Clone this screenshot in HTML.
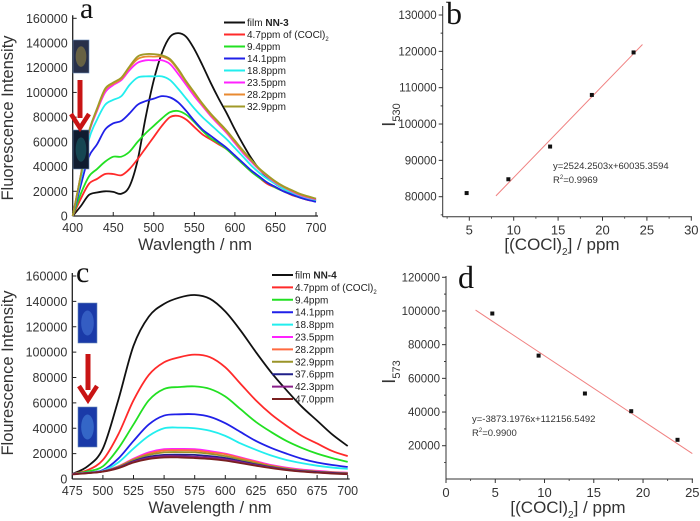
<!DOCTYPE html>
<html><head><meta charset="utf-8"><style>
html,body{margin:0;padding:0;background:#fff;}
svg{display:block;font-family:"Liberation Sans",Arial,sans-serif;}
</style></head><body>
<svg id="fig" width="700" height="521" viewBox="0 0 700 521" xmlns="http://www.w3.org/2000/svg">
<g id="pa"></g>
<g id="pb"></g>
<g id="pc"></g>
<g id="pd"></g>
</svg>
<script>
// ---- Panel a data ----
const aWave = [400,410,420,430,440,450,460,470,480,490,500,510,520,530,540,550,560,570,580,590,600,610,620,630,640,650,660,670,680,690,700];
const aLabels = ["film NN-3","4.7ppm of (COCl)","9.4ppm","14.1ppm","18.8ppm","23.5ppm","28.2ppm","32.9ppm"];
const aColors = ["#111111","#ff2a2a","#22e022","#2020e8","#22eeee","#ff22ff","#e88a30","#a09a28"];
const aS0 = [0,8000,17000,19000,20000,19500,18000,24000,45000,80000,110000,132000,145000,148000,145000,135000,122000,108000,95000,83000,70000,58000,47000,38000,31000,26000,22000,19000,16500,14500,13000];
const aS1 = [0,14000,26000,30000,34000,34000,33000,38000,46000,55000,64000,73000,80000,81000,78000,72000,66000,62000,58000,54000,48000,42000,36000,31000,26000,23000,20000,17000,15000,13000,12000];
const aS2 = [0,18000,32000,38000,44000,48000,48000,52000,60000,67000,73000,79000,84000,85000,82000,76000,69000,63000,59000,54000,48000,42000,36000,31000,27000,23000,20000,17500,15000,13500,12000];
const aS3 = [0,25000,48000,58000,70000,75000,77000,83000,90000,93000,95000,97000,96000,92000,85000,77000,70000,65000,60000,55000,49000,43000,37000,32000,27000,23500,20000,17500,15000,13000,11500];
const aS4 = [0,30000,62000,78000,90000,94000,97000,106000,112000,113000,113000,113000,110000,103000,95000,87000,80000,74000,68000,62000,55000,48000,41000,35000,30000,26000,22000,19000,16500,14500,13000];
const aS5 = [0,33000,67000,85000,100000,106000,110000,118000,124000,126000,126000,126000,123000,115000,106000,97000,89000,81000,74000,67000,59000,51000,44000,37500,32000,27000,23500,20000,17000,15000,13500];
const aS6 = [0,33000,68000,86000,102000,107000,111000,120000,127000,129000,129000,129000,126000,118000,108000,99000,90000,82000,75000,68000,60000,52000,45000,38000,32500,27500,23500,20500,17500,15500,14000];
const aS7 = [0,33000,68000,87000,103000,108000,112000,121000,129000,131000,131000,130000,127000,119000,109000,100000,91000,83000,76000,69000,61000,53000,45500,38500,33000,28000,24000,21000,18000,16000,14000];
const aYTicks = [0,20000,40000,60000,80000,100000,120000,140000,160000];
const aXTicks = [400,450,500,550,600,650,700];

// ---- Panel c data ----
const cWave = [475,487.5,500,512.5,525,537.5,550,562.5,575,587.5,600,612.5,625,637.5,650,662.5,675,687.5,700];
const cLabels = ["film NN-4","4.7ppm of (COCl)","9.4ppm","14.1ppm","18.8ppm","23.5ppm","28.2ppm","32.9ppm","37.6ppm","42.3ppm","47.0ppm"];
const cColors = ["#111111","#ff2a2a","#22e022","#2020e8","#22eeee","#ff22ff","#ff6a40","#9a9428","#20208a","#8a208a","#7a2020"];
const cS0 = [4000,10000,24000,62000,105000,128000,138000,143000,145000,142000,132000,117000,100000,84000,70000,57000,46000,35000,26000];
const cS1 = [4000,7000,15000,35000,62000,82000,92000,96000,98000,96000,88000,75000,62000,51000,42000,34000,28000,22000,18000];
const cS2 = [4000,6000,10000,24000,43000,62000,71000,72500,73000,71000,65000,55000,45000,37000,30000,24500,20000,16500,13500];
const cS3 = [4000,5000,7000,16000,30000,43000,50000,51000,51000,49000,44000,37000,30000,24500,20000,16000,13000,11000,9500];
const cS4 = [4000,5000,6500,13000,24000,34000,40000,40500,40000,38000,34000,28000,23000,18500,15000,12500,10500,9000,8000];
const cS5 = [4000,4800,6000,10000,16000,21000,23500,23700,23500,22000,20000,17000,14000,11000,9000,7500,6500,5500,5000];
const cS6 = [4000,4800,6000,9800,15500,20000,22500,22700,22500,21000,19500,16500,13500,10500,8500,7000,6000,5300,4800];
const cS7 = [4000,4800,6000,9500,15000,19000,21000,21200,21000,19800,18000,15300,12500,10000,8000,6700,5800,5100,4500];
const cS8 = [3800,4700,6000,9000,14000,17500,19000,19200,19000,18000,16500,14000,11500,9300,7500,6300,5500,4800,4200];
const cS9 = [3800,4700,6000,8800,13500,16500,18000,18000,17500,16800,15500,13300,11000,9000,7200,6000,5200,4500,4000];
const cS10 = [3600,4500,5800,8500,13000,15800,17000,17000,16500,15800,14500,12500,10500,8600,7000,5800,5000,4300,3800];
const cYTicks = [0,20000,40000,60000,80000,100000,120000,140000,160000];
const cXTicks = [475,500,525,550,575,600,625,650,675,700];

// ---- Panel b data ----
const bX = [4.7,9.4,14.1,18.8,23.5];
const bY = [81000,84800,93800,108000,119700];
const bSlope = 2524.2503, bIntercept = 60035.3594;
const bFitRange = [8,24.5];
const bYTicks = [80000,90000,100000,110000,120000,130000];
const bXTicks = [5,10,15,20,25,30];

// ---- Panel d data ----
const dX = [4.7,9.4,14.1,18.8,23.5];
const dY = [98500,73500,51000,40500,23500];
const dSlope = -3873.1976, dIntercept = 112156.5492;
const dFitRange = [3,25];
const dYTicks = [20000,40000,60000,80000,100000,120000];
const dXTicks = [0,5,10,15,20,25];

const NS="http://www.w3.org/2000/svg";
function mk(parent,tag,attrs,text){const e=document.createElementNS(NS,tag);for(const k in attrs)e.setAttribute(k,attrs[k]);if(text!==undefined)e.textContent=text;parent.appendChild(e);return e;}
function lin(d0,d1,r0,r1){return v=>r0+(v-d0)*(r1-r0)/(d1-d0);}
function smooth(pts){let d="M"+pts[0][0].toFixed(2)+","+pts[0][1].toFixed(2);
 for(let i=0;i<pts.length-1;i++){const p0=pts[Math.max(0,i-1)],p1=pts[i],p2=pts[i+1],p3=pts[Math.min(pts.length-1,i+2)];
  const c1=[p1[0]+(p2[0]-p0[0])/6,p1[1]+(p2[1]-p0[1])/6],c2=[p2[0]-(p3[0]-p1[0])/6,p2[1]-(p3[1]-p1[1])/6];
  d+="C"+c1[0].toFixed(2)+","+c1[1].toFixed(2)+" "+c2[0].toFixed(2)+","+c2[1].toFixed(2)+" "+p2[0].toFixed(2)+","+p2[1].toFixed(2);}
 return d;}

function spectrum(g,cfg){
 const X=lin(cfg.xd[0],cfg.xd[1],cfg.px[0],cfg.px[1]), Y=lin(0,160000,cfg.py[0],cfg.py[1]);
 const ax=mk(g,"line",{x1:cfg.px[0],y1:cfg.py[0],x2:cfg.px[1]+2,y2:cfg.py[0],stroke:"#222","stroke-width":1.3});
 
 
 const ay=mk(g,"line",{x1:cfg.px[0],y1:cfg.py[0],x2:cfg.px[0],y2:cfg.py[1]-3,stroke:"#222","stroke-width":1.3});
 
 
 cfg.yt.forEach(v=>{const y=Y(v);
  mk(g,"line",{x1:cfg.px[0],y1:y,x2:cfg.px[0]+4,y2:y,stroke:"#222","stroke-width":1});
  const t=mk(g,"text",{x:cfg.px[0]-5,y:y+4.5,"text-anchor":"end","font-size":12.5,fill:"#333"},v);
  
  });
 cfg.xt.forEach(v=>{const x=X(v);
  mk(g,"line",{x1:x,y1:cfg.py[0],x2:x,y2:cfg.py[0]-4,stroke:"#222","stroke-width":1});
  const t=mk(g,"text",{x:x,y:cfg.py[0]+16,"text-anchor":"middle","font-size":12.5,fill:"#333"},v);
  
  });
 cfg.series.forEach((s,i)=>{
  const p=mk(g,"path",{d:smooth(cfg.wave.map((w,j)=>[X(w),Y(s[j])])),fill:"none",stroke:cfg.colors[i],"stroke-width":1.8});
  
  });
 cfg.labels.forEach((l,i)=>{const y=cfg.leg[1]+i*cfg.leg[2];
  const lg=mk(g,"g",{});
  
  
  mk(lg,"line",{x1:cfg.leg[0],y1:y,x2:cfg.leg[0]+21,y2:y,stroke:cfg.colors[i],"stroke-width":2});
  const t=mk(lg,"text",{x:cfg.leg[0]+23,y:y+3.5,"font-size":10,fill:"#222"});
  if(i===0){t.appendChild(document.createTextNode("film "));mk(t,"tspan",{"font-weight":"bold"},l.slice(5));}
  else if(l.indexOf("(COCl)")>=0){t.appendChild(document.createTextNode(l));mk(t,"tspan",{"font-size":6,dy:3},"2");}
  else t.textContent=l;});
 const yt=mk(g,"text",{x:0,y:0,transform:`translate(${cfg.ytitle[0]},${cfg.ytitle[1]}) rotate(-90)`,"text-anchor":"middle","font-size":16.5,fill:"#333"},cfg.ytitleText);
 
 
 const xt=mk(g,"text",{x:cfg.xtitle[0],y:cfg.xtitle[1],"text-anchor":"middle","font-size":16.5,fill:"#333"},"Wavlength / nm");
 if(cfg.xtitleText) xt.textContent=cfg.xtitleText;
 
 
 const pl=mk(g,"text",{x:cfg.plabel[0],y:cfg.plabel[1],"font-family":"Liberation Serif,serif","font-size":30,fill:"#111"},cfg.plabelText);
 
 
 cfg.insets.forEach((r,i)=>{const rc=mk(g,"rect",{x:r[0],y:r[1],width:r[2],height:r[3],fill:r[4],stroke:"#6a8ab8","stroke-width":0.6});
  
  
  mk(g,"ellipse",{cx:r[0]+r[2]/2,cy:r[1]+r[3]/2,rx:r[2]/3,ry:r[3]/3.2,fill:r[5],opacity:0.55});});
 const a=cfg.arrow;
 const ar=mk(g,"g",{});
 
 
 mk(ar,"line",{x1:a[0],y1:a[1],x2:a[0],y2:a[2]-10,stroke:"#c81414","stroke-width":5});
 mk(ar,"path",{d:`M${a[0]-9},${a[2]-14} L${a[0]},${a[2]} L${a[0]+9},${a[2]-14}`,fill:"none",stroke:"#c81414","stroke-width":4.5});
}

function scatter(g,cfg){
 const X=lin(cfg.xd[0],cfg.xd[1],cfg.xp[0],cfg.xp[1]), Y=lin(cfg.yd[0],cfg.yd[1],cfg.yp[0],cfg.yp[1]);
 const ax=mk(g,"line",{x1:cfg.ox,y1:cfg.oy,x2:cfg.xend,y2:cfg.oy,stroke:"#333","stroke-width":1});
 
 
 const ay=mk(g,"line",{x1:cfg.ox,y1:cfg.oy,x2:cfg.ox,y2:cfg.ytop,stroke:"#333","stroke-width":1});
 
 
 cfg.yt.forEach((v,i)=>{const y=Y(v);
  mk(g,"line",{x1:cfg.ox-4,y1:y,x2:cfg.ox,y2:y,stroke:"#333","stroke-width":1});
  const ym=Y(v+cfg.ystep/2);if(ym>cfg.ytop)mk(g,"line",{x1:cfg.ox-2,y1:ym,x2:cfg.ox,y2:ym,stroke:"#333","stroke-width":0.8});
  const ym2=Y(v-cfg.ystep/2);if(ym2<cfg.oy)mk(g,"line",{x1:cfg.ox-2,y1:ym2,x2:cfg.ox,y2:ym2,stroke:"#333","stroke-width":0.8});
  const t=mk(g,"text",{x:cfg.ox-6,y:y+4,"text-anchor":"end","font-size":11.5,fill:"#333"},v);
  
  });
 cfg.xt.forEach(v=>{const x=X(v);
  mk(g,"line",{x1:x,y1:cfg.oy,x2:x,y2:cfg.oy+4,stroke:"#333","stroke-width":1});
  const xm=X(v-cfg.xstep/2);if(xm>cfg.ox)mk(g,"line",{x1:xm,y1:cfg.oy,x2:xm,y2:cfg.oy+2,stroke:"#333","stroke-width":0.8});
  const t=mk(g,"text",{x:x,y:cfg.oy+18,"text-anchor":"middle","font-size":13,fill:"#333"},v);
  
  });
 const f=mk(g,"line",{x1:X(cfg.fr[0]),y1:Y(cfg.m*cfg.fr[0]+cfg.b),x2:X(cfg.fr[1]),y2:Y(cfg.m*cfg.fr[1]+cfg.b),stroke:"#f08080","stroke-width":1});
 
 
 cfg.px.forEach((xv,i)=>{const r=mk(g,"rect",{x:X(xv)-2,y:Y(cfg.py[i])-2,width:4,height:4,fill:"#111"});
  
  });
 const e=mk(g,"text",{x:cfg.eq[0],y:cfg.eq[1],"font-size":9.5,fill:"#333"},cfg.eqText);
 
 
 const r2=mk(g,"text",{x:cfg.eq[0],y:cfg.eq[1]+14,"font-size":9.5,fill:"#333"});
 
 
 r2.appendChild(document.createTextNode("R"));mk(r2,"tspan",{"font-size":6,dy:-4},"2");mk(r2,"tspan",{dy:4},cfg.r2);
 const yt=mk(g,"text",{transform:`translate(${cfg.ytitle[0]},${cfg.ytitle[1]}) rotate(-90)`,"text-anchor":"middle","font-size":18,fill:"#333"});
 
 
 yt.appendChild(document.createTextNode("I"));mk(yt,"tspan",{"font-size":11,dy:5},cfg.ysub);
 const xt=mk(g,"text",{x:cfg.xtitle[0],y:cfg.xtitle[1],"text-anchor":"middle","font-size":17,fill:"#333"});
 
 
 xt.appendChild(document.createTextNode("[(COCl)"));mk(xt,"tspan",{"font-size":10,dy:5},"2");mk(xt,"tspan",{dy:-5},"] / ppm");
 const pl=mk(g,"text",{x:cfg.plabel[0],y:cfg.plabel[1],"font-family":"Liberation Serif,serif","font-size":32,fill:"#111"},cfg.plabelText);
 
 
}

spectrum(document.getElementById("pa"),{xd:[400,700],px:[72.7,316],py:[216,18.3],wave:aWave,
 series:[aS0,aS1,aS2,aS3,aS4,aS5,aS6,aS7],colors:aColors,labels:aLabels,yt:aYTicks,xt:aXTicks,
 leg:[224,22.5,12],ytitle:[13,118],ytitleText:"Fluorescence Intensity",xtitle:[195,250],
 plabel:[80,18],plabelText:"a",insets:[[73,40,16,33,"#28304a","#9a8a40"],[73,130,16,39,"#101c30","#1c6a70"]],arrow:[80,80,128]});

spectrum(document.getElementById("pc"),{xd:[475,700],px:[72.3,347.7],py:[479,276],wave:cWave,
 series:[cS0,cS1,cS2,cS3,cS4,cS5,cS6,cS7,cS8,cS9,cS10],colors:cColors,labels:cLabels,yt:cYTicks,xt:cXTicks,
 leg:[272,275,12.4],ytitle:[13,373],ytitleText:"Flourescence Intensity",xtitle:[210,513],xtitleText:"Wavelength / nm",
 plabel:[76,282],plabelText:"c",insets:[[78,303,19,40,"#1a3aa8","#4a7ad8"],[78,407,19,40,"#1a3aa8","#4a8ae0"]],arrow:[88,354,400]});

scatter(document.getElementById("pb"),{xd:[5,30],xp:[469.3,691.3],yd:[80000,130000],yp:[196.7,15],
 ox:442.7,oy:216.7,xend:692,ytop:6,yt:bYTicks,xt:bXTicks,ystep:10000,xstep:5,
 px:bX,py:bY,m:bSlope,b:bIntercept,fr:bFitRange,eq:[553,169],eqText:"y=2524.2503x+60035.3594",r2:"=0.9969",
 ytitle:[395,115],ysub:"530",xtitle:[562,250],plabel:[446,24],plabelText:"b"});

scatter(document.getElementById("pd"),{xd:[0,25],xp:[446,692.3],yd:[0,120000],yp:[479.4,277.3],
 ox:446,oy:479,xend:693,ytop:276,yt:dYTicks,xt:dXTicks,ystep:20000,xstep:5,
 px:dX,py:dY,m:dSlope,b:dIntercept,fr:dFitRange,eq:[472,422],eqText:"y=-3873.1976x+112156.5492",r2:"=0.9900",
 ytitle:[395,372],ysub:"573",xtitle:[568,513],plabel:[458,288],plabelText:"d"});
</script>
</body></html>
